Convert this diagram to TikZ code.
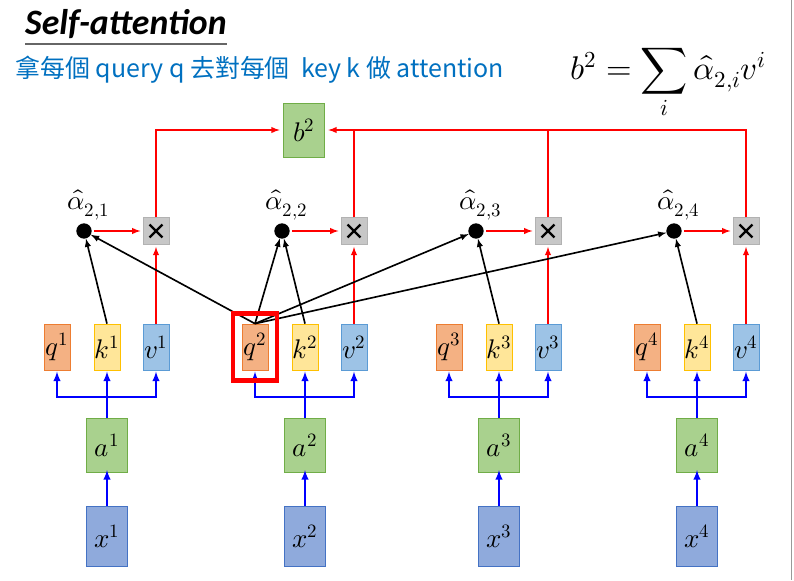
\documentclass[tikz,border=0pt]{standalone}
\usepackage{fontspec}
\usepackage{unicode-math}
\setmainfont{Carlito}
\setmathfont{Latin Modern Math}
\newfontfamily\cjk{Noto Sans CJK TC}
\usetikzlibrary{arrows,positioning}

\definecolor{qfill}{RGB}{244,177,131}
\definecolor{qline}{RGB}{237,125,49}
\definecolor{kfill}{RGB}{255,230,153}
\definecolor{kline}{RGB}{255,192,0}
\definecolor{vfill}{RGB}{157,195,230}
\definecolor{vline}{RGB}{91,155,213}
\definecolor{afill}{RGB}{169,209,142}
\definecolor{aline}{RGB}{112,173,71}
\definecolor{xfill}{RGB}{143,170,220}
\definecolor{xline}{RGB}{68,114,196}
\definecolor{subblue}{RGB}{0,112,192}

\begin{document}
\begin{tikzpicture}[x=0.03cm,y=-0.03cm,>=latex,
  vec/.style={draw,line width=0.6pt,inner sep=0pt,minimum width=0.78cm,minimum height=1.38cm,
    font=\fontsize{23}{26}\selectfont},
  qbox/.style={vec,fill=qfill,draw=qline},
  kbox/.style={vec,fill=kfill,draw=kline},
  vbox/.style={vec,fill=vfill,draw=vline},
  abox/.style={vec,fill=afill,draw=aline,minimum width=1.23cm,minimum height=1.62cm},
  xbox/.style={vec,fill=xfill,draw=xline,minimum width=1.23cm,minimum height=1.8cm},
  dot/.style={circle,fill=black,inner sep=0pt,minimum size=0.46cm},
  mul/.style={draw=black!30,fill=black!22,inner sep=0pt,minimum width=0.78cm,minimum height=0.8cm,
    path picture={\draw[black,line width=2pt]
      ([shift={(-5.5pt,-5.5pt)}]path picture bounding box.center) -- ++(11pt,11pt)
      ([shift={(-5.5pt,5.5pt)}]path picture bounding box.center) -- ++(11pt,-11pt);}},
  bl/.style={blue,line width=1.8pt},
  rd/.style={red,line width=1.4pt},
  bk/.style={black,line width=1.4pt}]

\useasboundingbox (0,0) rectangle (794,580);
\draw[black!40,line width=0.8pt] (791,0) -- (791,580);

% title and caption
\node[font=\fontsize{30.5}{36}\selectfont\bfseries\itshape,anchor=west] (title) at (21,24) {Self-attention};
\draw[black!60,line width=1.5pt] (25,44) -- (227,44);
\node[font=\cjk\fontsize{21.3}{26}\selectfont,text=subblue,anchor=west] (sub) at (11,70)
  {拿每個 query q 去對每個\ \ key k 做 attention};
\node[font=\fontsize{28}{32}\selectfont] (sum) at (668,84)
  {$\displaystyle b^2=\sum_i\hat{\alpha}_{2,i}v^i$};

% output
\node[abox] (b2) at (304,130) {$b^2$};

\foreach \i/\c in {1/107,2/305,3/499,4/697}{
  \node[kbox] (k\i) at (\c,347) {$k^{\i}$};
  \node[qbox] (q\i) at (\c-50,347) {$q^{\i}$};
  \node[vbox] (v\i) at (\c+49,347) {$v^{\i}$};
  \node[abox] (a\i) at (\c,445) {$a^{\i}$};
  \node[xbox] (x\i) at (\c,536) {$x^{\i}$};
  \coordinate (bar\i) at (\c,397);
  \node[dot] (al\i) at (\c-23,231) {};
  \node[mul] (m\i) at (\c+49,231) {};
  \node[font=\fontsize{23}{26}\selectfont,above=-1pt of al\i,xshift=4pt] (lab\i) {$\hat{\alpha}_{2,\i}$};
}

\foreach \i in {1,...,4}{
  \draw[bl,->] (x\i.north) -- ([yshift=2pt]a\i.south);
  \draw[bl,->,shorten >=1pt] (a\i.north) -- (k\i.south);
  \draw[bl,->,shorten >=1pt] (bar\i) -| (q\i.south);
  \draw[bl,->,shorten >=1pt] (bar\i) -| (v\i.south);

  \draw[rd,->,shorten >=2pt] (v\i) -- (m\i);
  \draw[rd,->,shorten >=2pt,shorten <=2pt] (al\i) -- (m\i);
  \draw[bk,->] (k\i.north) -- (al\i);
  \draw[bk,->] (q2.north) -- (al\i);
}

% q^2 highlight
\node[draw=red,line width=4pt,minimum width=1.32cm,minimum height=2cm] (hl) at (q2) {};

% weighted sum
\draw[rd,->,shorten >=3pt] (m1.north) |- (b2.west);
\draw[rd,->,shorten >=3pt] (m4.north) |- (b2.east);
\draw[rd] (m2.north) -- (m2.north |- b2.east);
\draw[rd] (m3.north) -- (m3.north |- b2.east);
\end{tikzpicture}
\end{document}
